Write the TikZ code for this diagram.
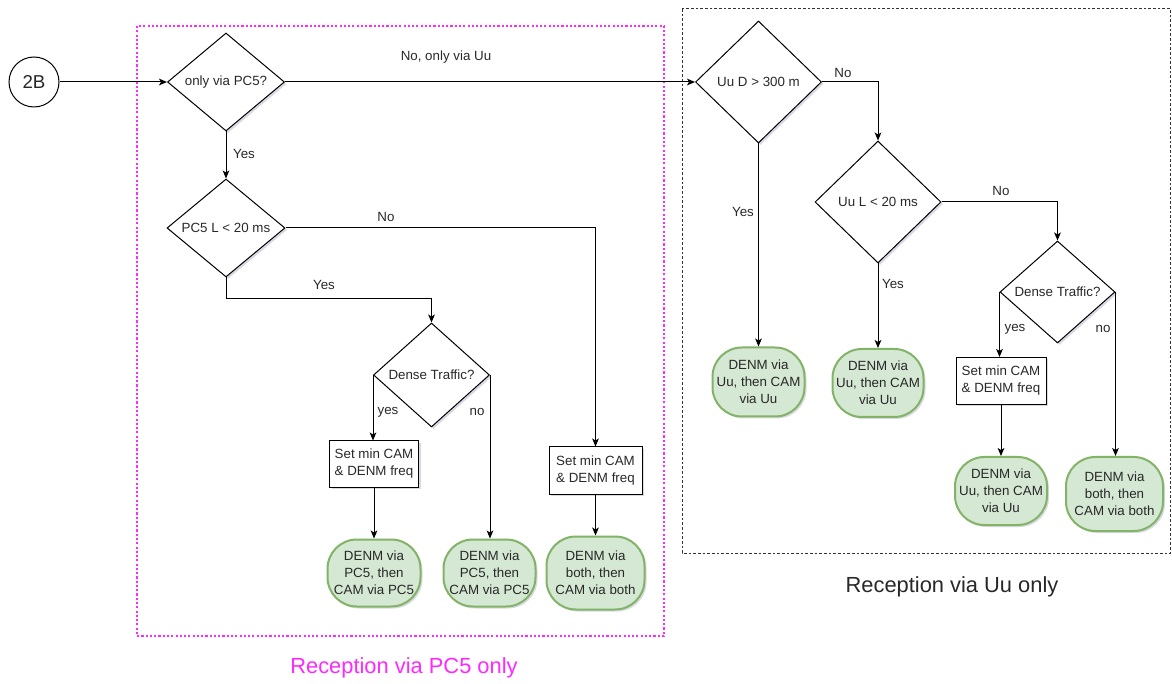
\documentclass[tikz,border=0pt]{standalone}
\usepackage{fontspec}
\setmainfont{Liberation Sans}
\usetikzlibrary{arrows.meta,shapes.geometric,shadows}

\definecolor{txtgray}{RGB}{40,40,40}
\definecolor{endfill}{RGB}{213,232,212}
\definecolor{enddraw}{RGB}{130,179,102}
\definecolor{pcpink}{RGB}{255,40,255}

\tikzset{every picture/.style={line width=0.75pt}}
\tikzset{
  soft/.style={drop shadow={shadow xshift=1.5pt,shadow yshift=-1.5pt,opacity=0.15,fill=black!70!blue}},
  decision/.style={diamond,draw,fill=white,soft,inner sep=0pt,text=txtgray,font=\fontsize{10}{12.75}\selectfont},
  action/.style={rectangle,draw,fill=white,soft,inner sep=0pt,align=center,text=txtgray,font=\fontsize{10}{12.75}\selectfont},
  ending/.style={rectangle,rounded corners=22pt,draw=enddraw,line width=1.5pt,fill=endfill,soft,inner sep=0pt,align=center,text=txtgray,font=\fontsize{10}{12.75}\selectfont},
  lbl/.style={inner sep=0.75pt,text=txtgray,font=\fontsize{10}{12.75}\selectfont},
  flow/.style={-{Stealth[length=6pt,width=5pt,inset=1.5pt]}}
}

\begin{document}
\begin{tikzpicture}[x=0.75pt,y=0.75pt,yscale=-1,xscale=1]
\useasboundingbox (0,0) rectangle (1172,684);

%Shape: Rectangle, reception via PC5
\draw [color=pcpink, line width=1.1pt, dash pattern=on 1.6pt off 1.6pt] (137,26) rectangle (664,636);
%Shape: Rectangle, reception via Uu
\draw [color=black!80, dash pattern=on 2pt off 1.5pt] (682,9) rectangle (1170.5,553);

%Shape: Circle
\draw (34,82) node [circle, draw, fill=white, minimum size=37.5pt, inner sep=0pt, text=txtgray, font=\fontsize{14}{16}\selectfont] (c2B) {2B};

%Shape: Diamond
\draw (226,82) node [decision, minimum width=87.75pt, minimum height=73.5pt] (dPC5) {\makebox[0pt]{only via PC5?}};
%Shape: Diamond
\draw (226,228) node [decision, minimum width=88.5pt, minimum height=73.5pt] (dLatPC5) {\makebox[0pt]{PC5 L < 20 ms}};
%Shape: Diamond
\draw (431.5,375) node [decision, minimum width=87pt, minimum height=78pt] (dDenseA) {\makebox[0pt]{Dense Traffic?}};
%Shape: Diamond
\draw (758.5,82) node [decision, minimum width=94.5pt, minimum height=91.5pt] (dDistUu) {\makebox[0pt]{Uu D > 300 m}};
%Shape: Diamond
\draw (878,202) node [decision, minimum width=94.5pt, minimum height=91.5pt] (dLatUu) {\makebox[0pt]{Uu L < 20 ms}};
%Shape: Diamond
\draw (1057.5,292) node [decision, minimum width=86.25pt, minimum height=76.5pt] (dDenseB) {\makebox[0pt]{Dense Traffic?}};

%Shape: Rectangle
\draw (374,464) node [action, minimum width=66.75pt, minimum height=34.5pt] (setA) {Set min CAM\\\& DENM freq};
%Shape: Rectangle
\draw (595.5,470.5) node [action, minimum width=69.75pt, minimum height=35.25pt] (setB) {Set min CAM\\\& DENM freq};
%Shape: Rectangle
\draw (1001,381) node [action, minimum width=67.5pt, minimum height=35.25pt] (setC) {Set min CAM\\\& DENM freq};

%Shape: Rounded Rectangle
\draw (374,573) node [ending, minimum width=69.75pt, minimum height=50.25pt] (endA) {DENM via\\PC5, then\\CAM via PC5};
%Shape: Rounded Rectangle
\draw (489.5,573) node [ending, minimum width=69pt, minimum height=50.25pt] (endB) {DENM via\\PC5, then\\CAM via PC5};
%Shape: Rounded Rectangle
\draw (595.5,573) node [ending, minimum width=73.5pt, minimum height=54.75pt] (endC) {DENM via\\both, then\\CAM via both};
%Shape: Rounded Rectangle
\draw (758.5,382) node [ending, minimum width=69pt, minimum height=51.75pt] (endD) {DENM via\\Uu, then CAM\\via Uu};
%Shape: Rounded Rectangle
\draw (878,383) node [ending, minimum width=68.25pt, minimum height=51pt] (endE) {DENM via\\Uu, then CAM\\via Uu};
%Shape: Rounded Rectangle
\draw (1001,491) node [ending, minimum width=69pt, minimum height=51pt] (endF) {DENM via\\Uu, then CAM\\via Uu};
%Shape: Rounded Rectangle
\draw (1114.5,494) node [ending, minimum width=72.75pt, minimum height=55.5pt] (endG) {DENM via\\both, then\\CAM via both};

\coordinate (kYesA) at (226,299);

%Straight Lines
\draw [flow] (c2B) -- (dPC5);
\draw [flow] (dPC5.east) -- (dDistUu.west);
\draw [flow] (dPC5.south) -- (dLatPC5.north);
\draw [flow] (dLatPC5.east) -| (setB.north);
\draw [flow] (dLatPC5.south) -- (kYesA) -| (dDenseA.north);
\draw [flow] (dDenseA.west) -- (dDenseA.west |- setA.north);
\draw [flow] (dDenseA.east) -- (dDenseA.east |- endB.north);
\draw [flow] (setA) -- (endA);
\draw [flow] (setB) -- (endC);
\draw [flow] (dDistUu.east) -| (dLatUu.north);
\draw [flow] (dDistUu.south) -- (endD);
\draw [flow] (dLatUu.south) -- (endE);
\draw [flow] (dLatUu.east) -| (dDenseB.north);
\draw [flow] (dDenseB.west) -- (dDenseB.west |- setC.north);
\draw [flow] (dDenseB.east) -- (dDenseB.east |- endG.north);
\draw [flow] (setC) -- (endF);

% Text Node
\draw (446,57) node [lbl] (tNoUu) {No, only via Uu};
% Text Node
\draw (244,154) node [lbl] (tYesA) {Yes};
% Text Node
\draw (386,217) node [lbl] (tNoA) {No};
% Text Node
\draw (324,285) node [lbl] (tYesB) {Yes};
% Text Node
\draw (388,412) node [lbl] (tyesA) {yes};
% Text Node
\draw (477,412) node [lbl] (tnoA) {no};
% Text Node
\draw (843,73) node [lbl] (tNoB) {No};
% Text Node
\draw (743,212) node [lbl] (tYesC) {Yes};
% Text Node
\draw (893,284) node [lbl] (tYesD) {Yes};
% Text Node
\draw (1001,191) node [lbl] (tNoC) {No};
% Text Node
\draw (1015,329) node [lbl] (tyesB) {yes};
% Text Node
\draw (1103,329) node [lbl] (tnoB) {no};
% Text Node
\draw (404,668) node [inner sep=0.75pt, text=pcpink, font=\fontsize{16.4}{19.5}\selectfont] (capPC5) {Reception via PC5 only};
% Text Node
\draw (952,587) node [inner sep=0.75pt, text=txtgray, font=\fontsize{16.4}{19.5}\selectfont] (capUu) {Reception via Uu only};

\end{tikzpicture}
\end{document}
